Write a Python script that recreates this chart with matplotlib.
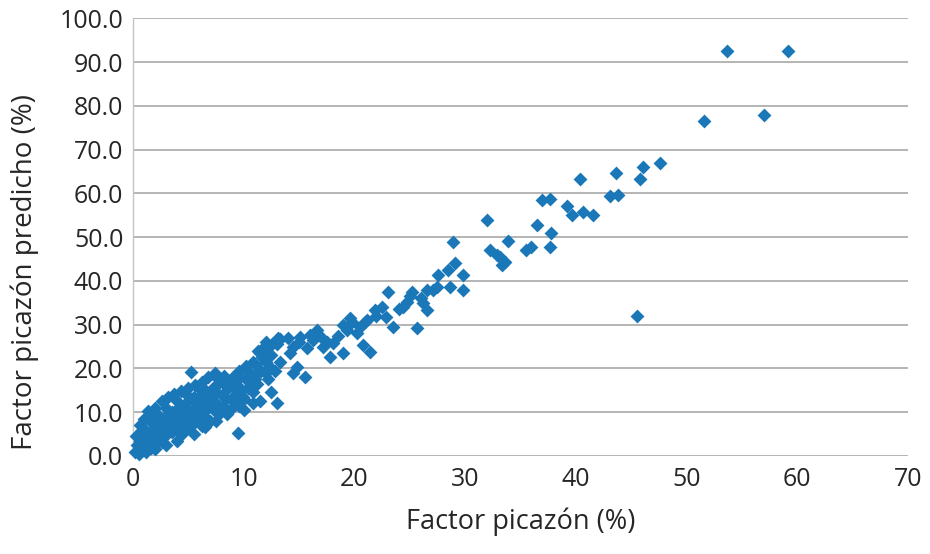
import matplotlib.pyplot as plt
from matplotlib.ticker import FormatStrFormatter

measured = [
    0.2, 0.4, 0.5, 0.6, 0.8, 0.9, 1.0, 1.1, 1.2, 1.3, 1.5, 1.6, 1.7, 1.8,
    2.0, 2.0, 2.2, 2.3, 2.5, 2.6, 2.8, 2.9, 3.0, 3.2, 3.3, 3.5, 3.5, 3.7,
    3.9, 4.0, 4.1, 4.2, 4.4, 4.5, 4.6, 4.8, 4.9, 5.0, 5.1, 5.2, 5.3, 5.5,
    5.5, 5.7, 5.8, 6.0, 6.0, 6.2, 6.3, 6.5, 6.6, 6.8, 7.0, 7.0, 7.2, 7.3,
    7.4, 7.5, 7.7, 7.8, 8.0, 8.1, 8.3, 8.4, 8.6, 8.8, 9.0, 9.0, 9.2, 9.4,
    9.5, 9.6, 9.8, 10.0, 10.2, 10.4, 10.6, 10.8, 11.0, 11.2, 11.5, 11.6,
    11.8, 12.0, 12.2, 12.5, 12.8, 13.0, 13.3, 13.0,
    9.7, 9.0, 9.9, 10.8, 11.2, 10.6, 11.7, 12.4, 12.1, 13.1, 14.2, 14.5,
    14.8, 15.5, 15.1, 15.7, 16.0, 16.6, 17.2, 17.8, 18.1, 19.0, 19.3, 19.6,
    20.2, 20.8, 21.4, 21.1, 21.9, 22.9, 23.5, 23.0, 24.4, 25.2, 26.6, 24.8,
    26.2, 26.6, 27.1, 25.7, 27.6, 28.6, 29.8, 28.5, 29.1, 29.8, 28.9,
    32.0, 32.3, 32.9, 33.2, 33.3, 33.6, 33.9, 35.5, 36.0, 36.5, 37.7, 37.8,
    37.0, 37.7, 39.2, 39.7, 40.7, 41.6, 43.1, 43.8, 40.4, 43.6, 45.8, 46.1,
    47.6, 45.5, 51.6, 53.7, 57.0, 59.2,
    # borde superior y relleno de la nube densa
    0.6, 1.0, 1.4, 2.0, 2.6, 3.2, 3.7, 4.3, 5.0, 5.6, 6.2, 6.8, 7.6, 8.2,
    9.0, 9.6, 10.2, 10.8, 11.3, 12.0, 12.6, 13.3,
    2.0, 3.0, 4.0, 5.5, 6.5, 7.5, 8.5, 10.0, 11.5, 12.5,
    1.5, 2.5, 3.5, 4.5, 5.5, 6.5, 7.5, 8.5, 9.5, 10.5, 11.0, 12.0, 4.0,
    5.0, 6.0, 3.0, 2.2, 1.0, 0.3, 0.8, 1.8,
    14.0, 14.5, 15.0, 16.3, 17.0, 17.5, 18.5, 19.0, 19.8, 20.5, 21.0, 22.0,
    24.0, 25.0, 26.0, 27.5, 22.5,
]
predicted = [
    1.0, 2.5, 0.5, 3.5, 1.5, 4.5, 2.0, 6.0, 0.8, 3.0, 5.0, 1.8, 7.5, 3.8,
    6.5, 2.5, 8.5, 4.5, 5.8, 3.2, 7.0, 9.0, 4.8, 6.2, 8.0, 10.0, 5.5, 7.2,
    9.2, 6.0, 11.0, 8.0, 5.0, 9.8, 7.0, 12.0, 8.5, 6.5, 10.5, 19.2, 9.0, 12.5,
    7.5, 11.0, 8.2, 13.5, 10.0, 6.8, 12.0, 9.0, 14.5, 11.0, 8.0, 13.0, 15.5, 10.5,
    18.9, 12.0, 16.5, 9.5, 14.0, 11.5, 17.0, 13.0, 15.5, 10.5, 16.5, 12.5, 14.0, 17.5,
    5.3, 11.5, 15.0, 13.0, 17.5, 15.5, 19.0, 14.5, 21.0, 16.5, 23.5, 19.5,
    25.0, 21.5, 17.5, 23.0, 19.5, 25.5, 21.5, 12.1,
    18.0, 15.8, 13.5, 12.1, 18.9, 16.7, 22.6, 20.3, 24.9, 26.9, 23.5, 18.9,
    20.3, 18.0, 27.2, 24.7, 27.6, 28.8, 24.9, 22.6, 25.8, 23.5, 28.8, 31.5,
    28.1, 25.3, 23.7, 31.1, 33.3, 31.7, 29.5, 37.4, 34.0, 37.4, 37.9, 35.2,
    34.9, 33.3, 37.9, 29.2, 41.3, 38.6, 37.9, 42.5, 44.1, 41.3, 48.9,
    53.9, 47.0, 45.9, 45.4, 43.6, 44.3, 49.1, 47.0, 47.7, 52.7, 47.7, 50.9,
    58.4, 58.7, 57.1, 55.0, 55.7, 55.0, 59.4, 59.6, 63.2, 64.6, 63.2, 66.0,
    66.9, 32.0, 76.5, 92.5, 78.0, 92.5,
    7.0, 8.5, 10.2, 11.0, 12.5, 13.5, 14.2, 14.8, 15.5, 16.2, 17.0, 18.0, 17.8, 18.2,
    18.0, 19.5, 20.5, 21.5, 24.0, 26.0, 25.5, 26.8,
    1.5, 2.5, 3.5, 5.0, 6.5, 8.0, 9.5, 10.5, 12.5, 14.5,
    4.0, 7.5, 9.0, 11.5, 13.5, 15.0, 14.5, 16.0, 16.0, 18.0, 17.5, 19.0, 12.5,
    13.8, 15.5, 11.0, 9.5, 5.5, 4.5, 6.0, 8.5,
    27.0, 25.0, 26.0, 26.5, 27.2, 26.0, 27.5, 30.0, 30.5, 29.5, 30.5, 32.0,
    33.5, 36.5, 36.0, 38.5, 34.0,
]

fig, ax = plt.subplots(figsize=(9.3, 5.54), dpi=100)
fig.subplots_adjust(left=0.143, right=0.976, bottom=0.177, top=0.967)

ax.scatter(measured, predicted, marker="D", s=50, color="#1a78b8",
           linewidths=0, zorder=3, clip_on=False)

ax.set_xlim(0, 70)
ax.set_ylim(0, 100)
ax.set_xticks(range(0, 71, 10))
ax.set_yticks(range(0, 101, 10))
ax.yaxis.set_major_formatter(FormatStrFormatter("%.1f"))

ax.grid(axis="y", color="#b4b4b4", linewidth=1.4)
ax.set_axisbelow(True)
for side in ["top", "right", "bottom"]:
    ax.spines[side].set_visible(False)
ax.spines["left"].set_color("#c4c4c4")
ax.spines["left"].set_linewidth(1.0)
ax.tick_params(length=0, labelsize=18, labelcolor="#262626")
ax.tick_params(axis="y", pad=7)
ax.tick_params(axis="x", pad=8)
for lab in ax.get_xticklabels() + ax.get_yticklabels():
    lab.set_family("Open Sans")

ax.set_xlabel("Factor picazón (%)", fontsize=19.5, family="Open Sans",
              color="#262626", labelpad=11)
fig.text(25 / 930, 1 - 272 / 554, "Factor picazón predicho (%)", rotation=90,
         ha="center", va="center", fontsize=20, family="Open Sans",
         color="#262626")

fig.savefig("out.png")
